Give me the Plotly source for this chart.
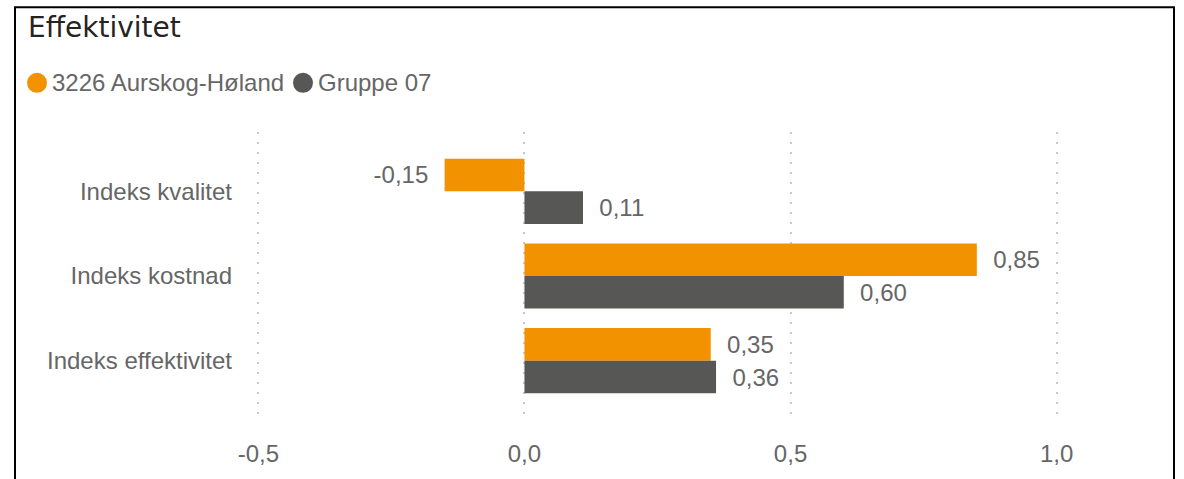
import plotly.graph_objects as go

categories = ["Indeks kvalitet", "Indeks kostnad", "Indeks effektivitet"]
series_names = ["3226 Aurskog-Høland", "Gruppe 07"]
values_kommune = [-0.15, 0.85, 0.35]
values_gruppe = [0.11, 0.60, 0.36]
x_ticks = [-0.5, 0.0, 0.5, 1.0]
x_tick_labels = ["-0,5", "0,0", "0,5", "1,0"]
colors = ["#F39200", "#575756"]

FONT = "Liberation Sans, Arial"
TXT = "#666666"


def fmt(v):
    s = f"{v:.2f}".replace(".", ",")
    return ("  " + s) if v >= 0 else (s + "  ")


fig = go.Figure()
for name, vals, col in zip(series_names, [values_kommune, values_gruppe], colors):
    fig.add_trace(go.Bar(
        y=categories, x=vals, orientation="h", name=name,
        marker=dict(color=col, line=dict(width=0)),
        text=[fmt(v) for v in vals], textposition="outside",
        textfont=dict(family=FONT, size=24, color=TXT),
        cliponaxis=False, showlegend=False,
    ))

# plot area geometry (pixels)
L, R, T, B = 253, 1062, 132, 425
W, H = 1184, 479
pw, ph = R - L, B - T


def px(x):
    return (x - L) / pw


def py(y):
    return (B - y) / ph


legend_y = 82
legend_items = [(37, 52), (303, 318)]  # circle centre x, text start x
annotations = []
shapes = []
for (cx, tx), name, col in zip(legend_items, series_names, colors):
    shapes.append(dict(
        type="circle", xref="paper", yref="paper",
        xsizemode="pixel", ysizemode="pixel",
        xanchor=px(cx), yanchor=py(legend_y),
        x0=-10, x1=10, y0=-10, y1=10,
        fillcolor=col, line=dict(width=0),
    ))
    annotations.append(dict(
        xref="paper", yref="paper", x=px(tx - 2), y=py(legend_y),
        xanchor="left", yanchor="middle", showarrow=False, text=name,
        font=dict(family=FONT, size=24, color=TXT),
    ))

shapes.append(dict(
    type="rect", xref="paper", yref="paper",
    x0=px(15), x1=px(1174), y0=py(520), y1=py(5),
    line=dict(color="black", width=2), fillcolor="rgba(0,0,0,0)", layer="above",
))

fig.update_layout(
    width=W, height=H,
    margin=dict(l=L, r=W - R, t=T, b=H - B, pad=0),
    paper_bgcolor="white", plot_bgcolor="white",
    barmode="group", bargap=0.23, bargroupgap=0,
    separators=", ",
    font=dict(family=FONT, size=24, color=TXT),
    xaxis=dict(
        range=[-0.51, 1.01], tickvals=x_ticks, ticktext=x_tick_labels,
        showgrid=True, gridcolor="#C8C8C8", griddash="2px,8px", gridwidth=1.5,
        zeroline=False, showline=False, ticks="", ticklabelstandoff=17,
        tickfont=dict(family=FONT, size=24, color=TXT),
    ),
    yaxis=dict(
        categoryorder="array", categoryarray=categories,
        range=[2.7, -0.7], showgrid=False, zeroline=False, showline=False,
        ticks="", ticklabelstandoff=20,
        tickfont=dict(family=FONT, size=24, color=TXT),
    ),
    title=dict(
        text="Effektivitet", xref="container", yref="container",
        x=28 / W, y=1 - 27 / H, xanchor="left", yanchor="middle",
        font=dict(family="DejaVu Sans", size=28, color="#252423"),
    ),
    annotations=annotations,
    shapes=shapes,
)

fig.write_html("out.html", post_script="document.body.style.margin='0';",
               config={"displayModeBar": False})
